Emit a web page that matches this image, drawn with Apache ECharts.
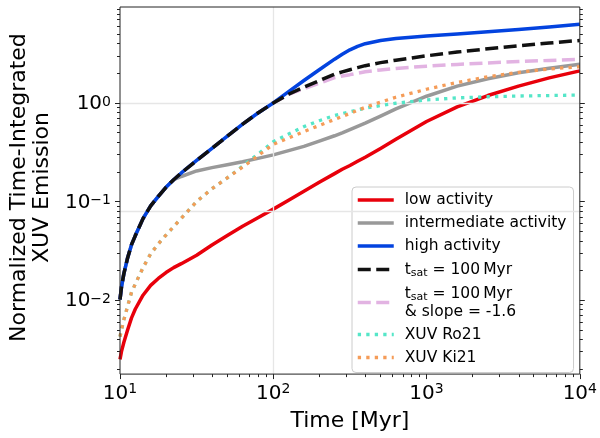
<!DOCTYPE html>
<html><head><meta charset="utf-8">
<script src="https://cdn.jsdelivr.net/npm/echarts@6/dist/echarts.min.js"></script>
<style>html,body{margin:0;padding:0;background:#fff}#c{width:600px;height:438px}</style>
</head><body><div id="c"></div>
<script>
// ---- data (time in Myr, normalized time-integrated XUV emission) ----
const timeMyr = [10, 10.23, 10.59, 11.22, 11.89, 12.59, 14.13, 15.85, 17.78, 19.95, 22.39, 25.12, 31.62, 39.81, 50.12, 63.10, 79.43, 100, 125.9, 158.5, 199.5, 251.2, 281.8, 316.2, 354.8, 398.1, 501.2, 631.0, 1000, 1585, 2512, 3981, 6310, 10000];
const lowActivity = [0.002512, 0.003020, 0.003715, 0.005012, 0.006607, 0.008128, 0.01122, 0.01413, 0.01660, 0.01905, 0.02138, 0.02344, 0.02851, 0.03631, 0.04519, 0.05623, 0.06839, 0.08375, 0.1033, 0.1271, 0.1567, 0.1919, 0.2128, 0.2323, 0.2559, 0.2812, 0.3459, 0.4285, 0.6486, 0.9120, 1.189, 1.483, 1.795, 2.113];
const intermediateActivity = [0.01016, 0.01365, 0.01849, 0.02698, 0.03656, 0.04519, 0.06714, 0.09036, 0.1127, 0.1396, 0.1663, 0.1795, 0.2042, 0.2208, 0.2366, 0.2535, 0.2742, 0.2972, 0.3281, 0.3622, 0.4102, 0.4645, 0.4977, 0.5370, 0.5781, 0.6237, 0.7345, 0.8710, 1.170, 1.482, 1.758, 2.028, 2.244, 2.466];
const highActivity = [0.01016, 0.01365, 0.01849, 0.02698, 0.03656, 0.04519, 0.06714, 0.09036, 0.1127, 0.1396, 0.1663, 0.1950, 0.2612, 0.3467, 0.4603, 0.6095, 0.7907, 1.000, 1.300, 1.690, 2.173, 2.780, 3.112, 3.459, 3.750, 3.990, 4.305, 4.508, 4.786, 5.000, 5.260, 5.559, 5.875, 6.281];
const tsat100 = [0.01016, 0.01365, 0.01849, 0.02698, 0.03656, 0.04519, 0.06714, 0.09036, 0.1127, 0.1396, 0.1663, 0.1950, 0.2612, 0.3467, 0.4603, 0.6095, 0.7907, 1.000, 1.225, 1.445, 1.683, 1.959, 2.065, 2.173, 2.280, 2.388, 2.565, 2.716, 3.006, 3.281, 3.540, 3.793, 4.055, 4.305];
const tsat100Slope = [0.01016, 0.01365, 0.01849, 0.02698, 0.03656, 0.04519, 0.06714, 0.09036, 0.1127, 0.1396, 0.1663, 0.1950, 0.2612, 0.3467, 0.4603, 0.6095, 0.7907, 1.000, 1.225, 1.393, 1.585, 1.807, 1.879, 1.936, 2.004, 2.070, 2.163, 2.239, 2.360, 2.460, 2.547, 2.636, 2.698, 2.773];
const xuvRo21 = [0.004266, 0.005012, 0.006310, 0.008710, 0.01202, 0.01462, 0.02138, 0.02951, 0.03715, 0.04571, 0.05559, 0.06761, 0.1000, 0.1349, 0.1738, 0.2291, 0.3020, 0.4046, 0.4831, 0.5754, 0.6607, 0.7464, 0.7816, 0.8147, 0.8492, 0.8851, 0.9397, 0.9931, 1.074, 1.125, 1.156, 1.175, 1.189, 1.202];
const xuvKi21 = [0.004266, 0.005012, 0.006310, 0.008710, 0.01202, 0.01462, 0.02138, 0.02951, 0.03715, 0.04571, 0.05559, 0.06761, 0.1000, 0.1349, 0.1738, 0.2239, 0.2917, 0.3802, 0.4416, 0.5129, 0.5902, 0.6808, 0.7295, 0.7834, 0.8414, 0.9016, 1.019, 1.143, 1.377, 1.614, 1.841, 2.046, 2.208, 2.328];

const seriesNames = ['low activity', 'intermediate activity', 'high activity', 't_sat = 100 Myr', 't_sat = 100 Myr & slope = -1.6', 'XUV Ro21', 'XUV Ki21'];
const legendLabels = {
  't_sat = 100 Myr': '{n|t}{s|sat}{n| = 100\u2009Myr}',
  't_sat = 100 Myr & slope = -1.6': '{n|t}{s|sat}{n| = 100\u2009Myr}\n{n|& slope = -1.6}'
};

// ---- axes / ticks ----
const xRange = [10, 10000];
const yRangeExp = [-2.75, 0.973];
const xMajorTicks = [10, 100, 1000, 10000];
const yMajorTicks = [0.01, 0.1, 1];
const minorMultipliers = [2, 3, 4, 5, 6, 7, 8, 9];
const xMinorDecades = [10, 100, 1000];
const yMinorDecades = [0.001, 0.01, 0.1, 1];
const refLineTimes = [100];
const refLineValues = [1, 0.079];
const xTitle = 'Time [Myr]';
const yTitle = 'Normalized Time-Integrated\nXUV Emission';

const FONT = 'DejaVu Sans';
const INK = '#222222';
const lg = Math.log10;
const xLo = lg(xRange[0]), xHi = lg(xRange[1]);
const yLo = yRangeExp[0], yHi = yRangeExp[1];
const minorLogs = (decades, lo, hi) => {
  const out = [];
  decades.forEach(d => minorMultipliers.forEach(m => { const v = lg(d * m); if (v > lo && v < hi) out.push(v); }));
  return out;
};
const xMajorLog = xMajorTicks.map(lg), yMajorLog = yMajorTicks.map(lg);
const xMinorLog = minorLogs(xMinorDecades, xLo, xHi), yMinorLog = minorLogs(yMinorDecades, yLo, yHi);

function powLabel(v) {
  const n = Math.round(v);
  return '{b|10}{s|' + (n < 0 ? '\u2212' + (-n) : String(n)) + '}';
}
const xLabelRich = {
  b: { fontFamily: FONT, fontSize: 20, lineHeight: 22, color: '#000', verticalAlign: 'bottom' },
  s: { fontFamily: FONT, fontSize: 14, lineHeight: 12, color: '#000', verticalAlign: 'top' }
};
const yLabelRich = {
  b: { fontFamily: FONT, fontSize: 20, lineHeight: 22, color: '#000', verticalAlign: 'bottom', padding: [6, 0, 0, 0] },
  s: { fontFamily: FONT, fontSize: 14, lineHeight: 12, color: '#000', verticalAlign: 'top', padding: [3, 0, 0, 0] }
};

function tickAxis(extra) {
  return Object.assign({
    type: 'value', splitLine: { show: false },
    axisLine: { show: false, onZero: false },
    axisLabel: { show: false }
  }, extra);
}

const xAxis = [
  { type: 'log', logBase: 10, min: xRange[0], max: xRange[1], show: false, axisLine: { onZero: false } },
  tickAxis({ min: xLo, max: xHi, position: 'bottom',
    axisTick: { show: true, customValues: xMajorLog, length: 5, lineStyle: { color: INK, width: 1 } },
    axisLabel: { show: true, customValues: xMajorLog, formatter: powLabel, margin: 8, rich: xLabelRich },
    name: xTitle, nameLocation: 'middle', nameGap: 32,
    nameTextStyle: { fontFamily: FONT, fontSize: 22, color: '#000', lineHeight: 24 } }),
  tickAxis({ min: xLo, max: xHi, position: 'bottom',
    axisTick: { show: true, customValues: xMinorLog, length: 3, lineStyle: { color: INK, width: 1 } } })
];
const yAxis = [
  { type: 'log', logBase: 10, min: Math.pow(10, yLo), max: Math.pow(10, yHi), show: false, axisLine: { onZero: false } },
  tickAxis({ min: yLo, max: yHi, position: 'left',
    axisTick: { show: true, customValues: yMajorLog, length: 5, lineStyle: { color: INK, width: 1 } },
    axisLabel: { show: true, customValues: yMajorLog, formatter: powLabel, margin: 9, rich: yLabelRich },
    name: yTitle, nameLocation: 'middle', nameGap: 56, nameRotate: 90,
    nameTextStyle: { fontFamily: FONT, fontSize: 22, color: '#000', lineHeight: 23, align: 'center', padding: [0, 0, 0, 6] } }),
  tickAxis({ min: yLo, max: yHi, position: 'left',
    axisTick: { show: true, customValues: yMinorLog, length: 3, lineStyle: { color: INK, width: 1 } } }),
  tickAxis({ min: yLo, max: yHi, position: 'right',
    axisTick: { show: true, customValues: yMajorLog, length: 5, lineStyle: { color: INK, width: 1 } } }),
  tickAxis({ min: yLo, max: yHi, position: 'right',
    axisTick: { show: true, customValues: yMinorLog, length: 3, lineStyle: { color: INK, width: 1 } } })
];

const styles = [
  { color: '#e8000b', type: 'solid', width: 3.5, z: 3 },
  { color: '#999999', type: 'solid', width: 3.5, z: 4 },
  { color: '#0343df', type: 'solid', width: 3.5, z: 6 },
  { color: '#111111', type: [13, 5.5], width: 3.5, z: 7 },
  { color: '#e2b3e2', type: [13, 5.5], width: 3.5, z: 5 },
  { color: '#55e6c8', type: [3.3, 5.2], width: 3.3, z: 8 },
  { color: '#f59c58', type: [3.3, 5.2], width: 3.3, z: 9 }
];
const values = [lowActivity, intermediateActivity, highActivity, tsat100, tsat100Slope, xuvRo21, xuvKi21];

const series = values.map((arr, i) => ({
  name: seriesNames[i], type: 'line', xAxisIndex: 0, yAxisIndex: 0,
  data: timeMyr.map((t, j) => [t, arr[j]]),
  showSymbol: false, symbol: 'none', smooth: false,
  z: styles[i].z, silent: true, animation: false,
  color: styles[i].color,
  lineStyle: { color: styles[i].color, width: styles[i].width, type: styles[i].type, cap: 'butt', join: 'round' },
  emphasis: { disabled: true }
}));
series.unshift({
  name: 'ref', type: 'line', xAxisIndex: 0, yAxisIndex: 0, data: [], z: 1, silent: true, animation: false,
  markLine: {
    silent: true, symbol: 'none', animation: false, label: { show: false },
    lineStyle: { color: '#e6e6e6', width: 1.3, type: 'solid' },
    emphasis: { disabled: true },
    data: refLineTimes.map(t => ({ xAxis: t })).concat(refLineValues.map(v => ({ yAxis: v })))
  }
});

const legendData = seriesNames.map((name, i) => ({
  name,
  itemStyle: { color: 'rgba(0,0,0,0)', borderWidth: 0, opacity: 0 },
  lineStyle: { color: styles[i].color, width: Math.min(styles[i].width, 3.5), type: styles[i].type, cap: 'butt', opacity: 1 }
}));

const chart = echarts.init(document.getElementById('c'), null, { renderer: 'canvas' });
chart.setOption({
  animation: false,
  backgroundColor: '#ffffff',
  grid: { left: 120, right: 19, top: 7, bottom: 59, show: true, borderColor: INK, borderWidth: 1, backgroundColor: 'transparent', z: 10 },
  xAxis, yAxis, series,
  legend: {
    data: legendData, orient: 'vertical', left: 352, top: 187,
    padding: [4, 7, 6, 4], itemGap: 5, itemWidth: 36, itemHeight: 14,
    backgroundColor: 'rgba(255,255,255,0.85)', borderColor: '#cccccc', borderWidth: 1, borderRadius: 4,
    selectedMode: false,
    itemStyle: { color: 'rgba(0,0,0,0)', borderWidth: 0, opacity: 0 },
    formatter: name => legendLabels[name] || name,
    textStyle: {
      fontFamily: FONT, fontSize: 15.5, lineHeight: 18, color: '#000', padding: [0, 0, 0, 6],
      rich: {
        n: { fontFamily: FONT, fontSize: 15.5, lineHeight: 18, color: '#000' },
        s: { fontFamily: FONT, fontSize: 11, lineHeight: 10, color: '#000', padding: [8, 0, 0, 0] }
      }
    }
  }
});
</script></body></html>
